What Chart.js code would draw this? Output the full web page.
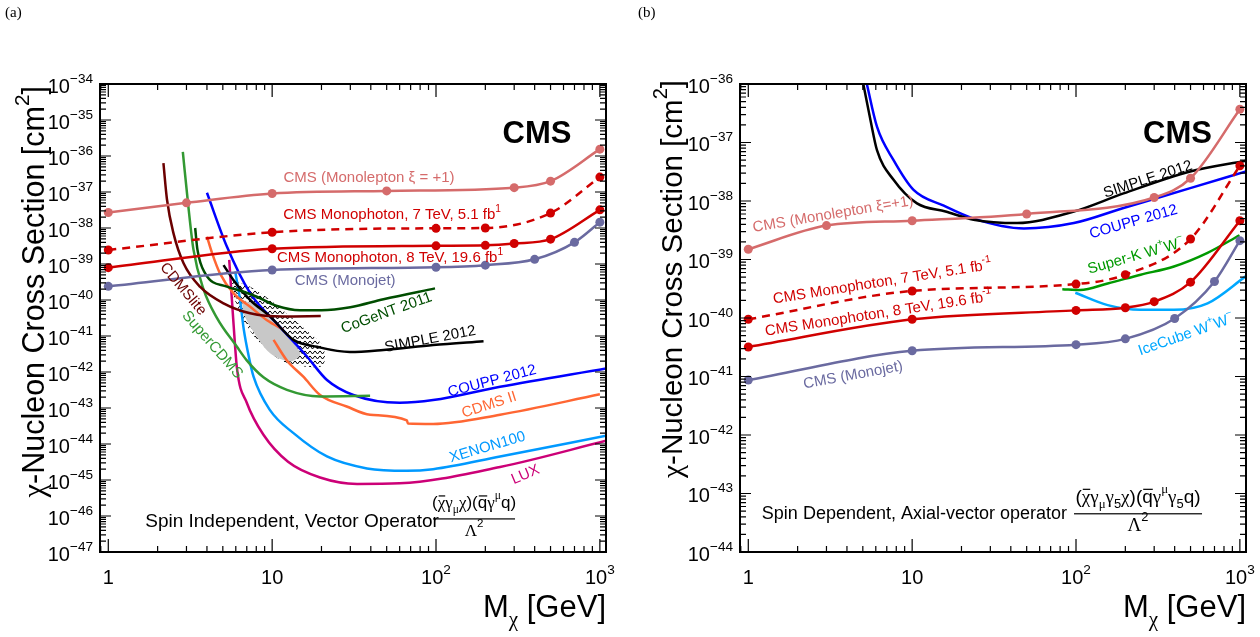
<!DOCTYPE html>
<html>
<head>
<meta charset="utf-8">
<script src="https://cdn.jsdelivr.net/npm/chart.js@4.4.1/dist/chart.umd.min.js"></script>
<style>
  body { margin: 0; background: #fff; }
  #wrap { position: relative; width: 1260px; height: 637px; }
  canvas { position: absolute; top: 0; }
</style>
</head>
<body>
<div id="wrap">
  <canvas id="siChart" width="630" height="637" style="left:0"></canvas>
  <canvas id="sdChart" width="630" height="637" style="left:630px"></canvas>
</div>
<script>
// mass axis range (GeV), shared by both panels
const massMin = 0.89, massMax = 1090;

// ---- (a) spin independent, vector operator ----
const siMonoleptonMass = [1, 3, 10, 50, 300, 500, 1000];
const siMonoleptonXsec = [2.7e-38, 5.0e-38, 9.1e-38, 1.07e-37, 1.32e-37, 2.0e-37, 1.55e-36];
const siPhoton7Mass = [1, 10, 100, 200, 500, 1000];
const siPhoton7Xsec = [2.45e-39, 7.6e-39, 9.8e-39, 1.0e-38, 2.6e-38, 2.6e-37];
const siPhoton8Mass = [1, 10, 100, 200, 300, 500, 1000];
const siPhoton8Xsec = [7.9e-40, 2.66e-39, 3.2e-39, 3.3e-39, 3.7e-39, 4.9e-39, 3.2e-38];
const siMonojetMass = [1, 10, 100, 200, 400, 700, 1000];
const siMonojetXsec = [2.4e-40, 6.8e-40, 8.1e-40, 9.3e-40, 1.35e-39, 4.0e-39, 1.45e-38];

// direct detection limits, [mass, cross section]
const siCDMSlite = [[2.17, 6.3e-37], [2.28, 6.3e-38], [2.5, 7.1e-39], [2.88, 1.05e-39], [3.64, 2.3e-40], [5.05, 8.1e-41], [7.34, 4.3e-41], [11.7, 3.5e-41], [19.8, 3.6e-41]];
const siSuperCDMS = [[2.85, 1.3e-36], [3.08, 4.0e-38], [3.31, 2.5e-39], [3.81, 2.0e-40], [4.6, 3.2e-41], [6.1, 5.0e-42], [7.0, 2.1e-42], [8.85, 7.1e-43], [12.3, 3.2e-43], [19.6, 2.1e-43], [39.6, 2.2e-43]];
const siCoGeNT = [[3.39, 1.0e-38], [3.5, 2.5e-39], [3.9, 5.5e-40], [5.3, 2.34e-40], [6.7, 1.7e-40], [8.06, 1.23e-40], [10.7, 6.8e-41], [14.8, 5.2e-41], [20, 5.2e-41], [30, 6.3e-41], [47.8, 1.05e-40], [98.6, 2.1e-40]];
const siSIMPLE = [[5.05, 9.3e-40], [5.8, 3.6e-40], [7.34, 1.0e-40], [9.7, 3.5e-41], [13.5, 7.8e-42], [18.8, 5.0e-42], [29.8, 3.6e-42], [47.8, 4.1e-42], [96, 5.6e-42], [195, 7.2e-42]];
const siCOUPP = [[4.0, 9.5e-38], [5.3, 3.0e-39], [7.34, 1.55e-40], [10.7, 2.2e-41], [16.3, 2.7e-42], [21.6, 6.0e-43], [31.3, 2.3e-43], [60, 1.4e-43], [96, 1.66e-43], [246, 3.9e-43], [1090, 1.26e-42]];
const siCDMSIIlow = [[4.0, 5.8e-39], [4.3, 2.0e-39], [4.8, 5.5e-40], [5.8, 1.55e-40], [7.34, 6.5e-41], [9.3, 2.75e-41], [11.7, 1.5e-41]];
const siCDMSII = [[10.2, 7.8e-42], [12.3, 2.1e-42], [15.5, 7.4e-43], [19.6, 2.3e-43], [28.5, 1.1e-43], [39.6, 6.5e-44], [66.4, 4.5e-44], [67.4, 3.7e-44], [96, 3.6e-44], [246, 6.5e-44], [1000, 2.4e-43]];
const siXENON100 = [[5.95, 6.2e-40], [6.37, 1.0e-40], [6.7, 1.6e-41], [7.2, 2.7e-42], [7.7, 7.4e-43], [9.7, 8.7e-44], [13.5, 2.0e-44], [21.6, 4.5e-45], [37.9, 2.1e-45], [66.4, 1.8e-45], [96, 2.0e-45], [246, 4.5e-45], [1090, 1.7e-44]];
const siLUX = [[5.47, 1.3e-39], [5.8, 2.5e-41], [6.1, 1.26e-42], [7.0, 1.4e-43], [8.85, 1.8e-44], [12.5, 3.2e-45], [19.6, 1.17e-45], [33, 7.8e-46], [60, 8.1e-46], [246, 2.3e-45], [1090, 1.23e-44]];
// allowed regions (closed contours)
const siHatchRegion = [[5.55, 3.6e-40], [7.34, 2.34e-40], [9.72, 1.0e-40], [12.9, 3.5e-41], [17.1, 1.17e-41], [20.5, 5.0e-42], [20.5, 1.55e-42], [16.3, 1.4e-42], [11.7, 1.95e-42], [8.45, 6.3e-42], [6.68, 2.75e-41], [5.81, 1.23e-40]];
const siGrayRegion = [[6.53, 1.0e-40], [8.45, 6.5e-41], [11.7, 1.5e-41], [14.1, 5.0e-42], [14.8, 2.95e-42], [12.9, 1.95e-42], [9.72, 3.3e-42], [7.34, 1.8e-41], [6.68, 4.3e-41]];

// ---- (b) spin dependent, axial-vector operator ----
const sdMonoleptonMass = [1, 3, 10, 50, 300, 500, 1000];
const sdMonoleptonXsec = [1.5e-39, 3.8e-39, 4.6e-39, 6.0e-39, 1.15e-38, 2.45e-38, 3.7e-37];
const sdPhoton7Mass = [1, 10, 100, 200, 500, 1000];
const sdPhoton7Xsec = [9.5e-41, 2.9e-40, 3.8e-40, 5.5e-40, 2.24e-39, 4.0e-38];
const sdPhoton8Mass = [1, 10, 100, 200, 300, 500, 1000];
const sdPhoton8Xsec = [3.2e-41, 9.5e-41, 1.35e-40, 1.5e-40, 1.9e-40, 4.1e-40, 4.6e-39];
const sdMonojetMass = [1, 10, 100, 200, 400, 700, 1000];
const sdMonojetXsec = [8.7e-42, 2.75e-41, 3.5e-41, 4.4e-41, 9.8e-41, 4.2e-40, 2.1e-39];

const sdSIMPLE = [[5.0, 1.1e-36], [5.57, 2.4e-37], [6.1, 7.4e-38], [7.7, 2.3e-38], [10.7, 9.1e-39], [16, 6.6e-39], [23.7, 4.8e-39], [43.7, 4.2e-39], [97, 6.6e-39], [195, 1.35e-38], [498, 3.2e-38], [1090, 4.9e-38]];
const sdCOUPP = [[5.25, 1.1e-36], [6.1, 1.86e-37], [7.7, 5.0e-38], [10.2, 1.55e-38], [15.6, 8.3e-39], [23.7, 5.0e-39], [48.1, 3.4e-39], [97, 4.2e-39], [195, 7.6e-39], [498, 1.66e-38], [1090, 3.2e-38]];
const sdSuperK = [[82.5, 3.1e-40], [106, 3.0e-40], [156, 3.9e-40], [248, 5.5e-40], [396, 7.6e-40], [635, 1.3e-39], [995, 2.6e-39]];
const sdIceCube = [[99, 2.7e-40], [156, 1.66e-40], [248, 1.38e-40], [396, 1.38e-40], [635, 1.78e-40], [1090, 5.2e-40]];

const C = {
  monolepton: '#d56b6b', monophoton: '#d00000', monojet: '#6a6aa0',
  cdmslite: '#6b0000', supercdms: '#339933', cogent: '#004d00', simple: '#000000',
  coupp: '#0000ff', cdms2: '#ff6633', xenon: '#0099ff', lux: '#cc0077',
  superk: '#009900', icecube: '#00a8ff'
};

const SANS = '"Liberation Sans", Arial, Helvetica, sans-serif';
const SERIF = '"Liberation Serif", "Times New Roman", serif';

function xy(xs, ys) { return xs.map((x, i) => ({ x: x, y: ys[i] })); }
function pairs(arr) { return arr.map(p => ({ x: p[0], y: p[1] })); }

function cmsSet(xs, ys, color, dashed) {
  return {
    data: xy(xs, ys), showLine: true, borderColor: color, backgroundColor: color,
    borderWidth: 2.5, borderDash: dashed ? [8, 6] : [],
    pointRadius: 4.5, pointHoverRadius: 4.5, pointBorderWidth: 0, pointBackgroundColor: color,
    cubicInterpolationMode: 'monotone', clip: 0, order: 1
  };
}
function limitSet(arr, color) {
  return {
    data: pairs(arr), showLine: true, borderColor: color, borderWidth: 2.5,
    pointRadius: 0, cubicInterpolationMode: 'monotone', clip: 0, order: 5
  };
}
function regionSet(arr, fill, order) {
  return {
    data: pairs(arr), showLine: true, borderWidth: 0, borderColor: 'rgba(0,0,0,0)',
    backgroundColor: fill, fill: 'shape', pointRadius: 0, tension: 0.3, clip: 0, order: order
  };
}

// zigzag hatching used for the outer allowed region
function zigzag() {
  const c = document.createElement('canvas');
  c.width = 5; c.height = 5;
  const g = c.getContext('2d');
  g.strokeStyle = '#000'; g.lineWidth = 1;
  g.beginPath(); g.moveTo(0, 0.8); g.lineTo(2.5, 4); g.lineTo(5, 0.8); g.stroke();
  return g.createPattern(c, 'repeat');
}

// text made of pieces: plain, superscript, subscript, overlined
function richFont(p, size) {
  const s = (p.sup || p.sub) ? size * 0.68 : size;
  return (p.bold ? 'bold ' : '') + s + 'px ' + (p.serif ? SERIF : SANS);
}
function richWidth(ctx, parts, size) {
  let w = 0;
  parts.forEach(p => { ctx.font = richFont(p, size); w += ctx.measureText(p.t).width; });
  return w;
}
function drawRich(ctx, parts, x, y, size, align) {
  const w = richWidth(ctx, parts, size);
  let cx = align === 'right' ? x - w : align === 'center' ? x - w / 2 : x;
  ctx.textAlign = 'left';
  ctx.textBaseline = 'alphabetic';
  parts.forEach(p => {
    ctx.font = richFont(p, size);
    const dy = p.sup ? -size * 0.5 : p.sub ? size * 0.28 : 0;
    ctx.fillText(p.t, cx, y + dy);
    const tw = ctx.measureText(p.t).width;
    if (p.bar) ctx.fillRect(cx + 1, y - size * 0.74, tw - 1, 1.2);
    cx += tw;
  });
}

function eachLogTick(scale, fn) {
  const lo = Math.floor(Math.log10(scale.min)), hi = Math.ceil(Math.log10(scale.max));
  for (let d = lo; d <= hi; d++) {
    for (let m = 1; m <= 9; m++) {
      const v = m * Math.pow(10, d);
      if (v < scale.min * (1 - 1e-9) || v > scale.max * (1 + 1e-9)) continue;
      fn(scale.getPixelForValue(v), m === 1, d);
    }
  }
}

// frame, ROOT style ticks, labels and annotations
function panelPlugin(panel) {
  return {
    id: 'panel',
    afterDraw(chart) {
      const ctx = chart.ctx, a = chart.chartArea, xs = chart.scales.x, ys = chart.scales.y;
      ctx.save();
      ctx.strokeStyle = '#000';
      ctx.lineWidth = 1.2;
      ctx.beginPath();
      eachLogTick(xs, (p, major) => {
        const L = major ? 13 : 6;
        ctx.moveTo(p, a.bottom); ctx.lineTo(p, a.bottom - L);
        ctx.moveTo(p, a.top); ctx.lineTo(p, a.top + L);
      });
      eachLogTick(ys, (p, major) => {
        const L = major ? 11 : 6;
        ctx.moveTo(a.left, p); ctx.lineTo(a.left + L, p);
        ctx.moveTo(a.right, p); ctx.lineTo(a.right - L, p);
      });
      ctx.stroke();
      ctx.lineWidth = 2;
      ctx.strokeRect(a.left, a.top, a.right - a.left, a.bottom - a.top);

      ctx.fillStyle = '#000';
      eachLogTick(ys, (p, major, d) => {
        if (!major) return;
        drawRich(ctx, [{ t: '10' }, { t: '\u2212' + Math.abs(d), sup: true }], a.left - 7, p + 8.5, 20, 'right');
      });
      eachLogTick(xs, (p, major, d) => {
        if (!major) return;
        const parts = d === 0 ? [{ t: '1' }] : d === 1 ? [{ t: '10' }] : [{ t: '10' }, { t: String(d), sup: true }];
        drawRich(ctx, parts, p, 584, 20, 'center');
      });

      // axis titles
      ctx.save();
      ctx.translate(panel.yTitleX, panel.yTitleTop);
      ctx.rotate(-Math.PI / 2);
      drawRich(ctx, [{ t: '\u03c7', serif: true }, { t: '-Nucleon Cross Section [cm' }, { t: '2', sup: true }, { t: ']' }],
        0, 0, panel.yTitleSize, 'right');
      ctx.restore();
      drawRich(ctx, [{ t: 'M' }, { t: '\u03c7', sub: true, serif: true }, { t: ' [GeV]' }], a.right, 617, 31, 'right');

      ctx.font = '15px ' + SERIF;
      ctx.textAlign = 'left';
      ctx.fillText(panel.tag, panel.tagX, 17);

      // curve labels
      panel.notes.forEach(n => {
        const size = n.size || 15;
        ctx.save();
        ctx.translate(xs.getPixelForValue(n.x), ys.getPixelForValue(n.y));
        ctx.rotate((n.angle || 0) * Math.PI / 180);
        ctx.fillStyle = n.color;
        drawRich(ctx, n.parts, 0, size * 0.36, size, n.align || 'center');
        ctx.restore();
      });

      // operator
      const f = panel.formula;
      const fx = xs.getPixelForValue(f.x), fy = ys.getPixelForValue(f.y);
      ctx.fillStyle = '#000';
      ctx.fillRect(fx - f.half, fy - 0.6, f.half * 2, 1.2);
      drawRich(ctx, f.num, fx, fy - 11, f.size, 'center');
      drawRich(ctx, [{ t: '\u039b', serif: true }, { t: '2', sup: true }], fx, fy + 17, f.size, 'center');
      ctx.restore();
    }
  };
}

function makeChart(id, datasets, yMin, yMax, yWidth, padRight, panel) {
  return new Chart(document.getElementById(id), {
    type: 'scatter',
    data: { datasets: datasets },
    options: {
      responsive: false, animation: false, devicePixelRatio: 1, events: [],
      layout: { padding: { top: 84, right: padRight, bottom: 0, left: 0 } },
      plugins: { legend: { display: false }, tooltip: { enabled: false } },
      scales: {
        x: {
          type: 'logarithmic', bounds: 'data', min: massMin, max: massMax,
          ticks: { display: false }, grid: { display: false }, border: { display: false },
          afterFit: s => { s.height = 85; }
        },
        y: {
          type: 'logarithmic', bounds: 'data', min: yMin, max: yMax,
          ticks: { display: false }, grid: { display: false }, border: { display: false },
          afterFit: s => { s.width = yWidth; }
        }
      }
    },
    plugins: [panelPlugin(panel)]
  });
}

const siDatasets = [
  regionSet(siHatchRegion, zigzag(), 20),
  regionSet(siGrayRegion, '#c8c8c8', 19),
  limitSet(siCDMSlite, C.cdmslite),
  limitSet(siSuperCDMS, C.supercdms),
  limitSet(siCoGeNT, C.cogent),
  limitSet(siSIMPLE, C.simple),
  limitSet(siCOUPP, C.coupp),
  limitSet(siCDMSIIlow, C.cdms2),
  limitSet(siCDMSII, C.cdms2),
  limitSet(siXENON100, C.xenon),
  limitSet(siLUX, C.lux),
  cmsSet(siMonoleptonMass, siMonoleptonXsec, C.monolepton, false),
  cmsSet(siPhoton7Mass, siPhoton7Xsec, C.monophoton, true),
  cmsSet(siPhoton8Mass, siPhoton8Xsec, C.monophoton, false),
  cmsSet(siMonojetMass, siMonojetXsec, C.monojet, false)
];

const sdDatasets = [
  limitSet(sdSIMPLE, C.simple),
  limitSet(sdCOUPP, C.coupp),
  limitSet(sdSuperK, C.superk),
  limitSet(sdIceCube, C.icecube),
  cmsSet(sdMonoleptonMass, sdMonoleptonXsec, C.monolepton, false),
  cmsSet(sdPhoton7Mass, sdPhoton7Xsec, C.monophoton, true),
  cmsSet(sdPhoton8Mass, sdPhoton8Xsec, C.monophoton, false),
  cmsSet(sdMonojetMass, sdMonojetXsec, C.monojet, false)
];

makeChart('siChart', siDatasets, 1e-47, 1e-34, 100, 24, {
  tag: '(a)', tagX: 5, yTitleX: 44, yTitleTop: 86, yTitleSize: 30.5,
  notes: [
    { parts: [{ t: 'CMS', bold: true }], x: 413, y: 4.7e-36, size: 31, color: '#000' },
    { parts: [{ t: 'CMS (Monolepton \u03be = +1)' }], x: 39, y: 2.6e-37, color: C.monolepton },
    { parts: [{ t: 'CMS Monophoton, 7 TeV, 5.1 fb' }, { t: '1', sup: true }], x: 54, y: 2.45e-38, color: C.monophoton },
    { parts: [{ t: 'CMS Monophoton, 8 TeV, 19.6 fb' }, { t: '1', sup: true }], x: 52.4, y: 1.6e-39, color: C.monophoton },
    { parts: [{ t: 'CMS (Monojet)' }], x: 27.9, y: 3.8e-40, color: C.monojet },
    { parts: [{ t: 'CDMSlite' }], x: 2.9, y: 2.1e-40, angle: 50, color: C.cdmslite },
    { parts: [{ t: 'SuperCDMS' }], x: 4.37, y: 6e-42, angle: 49, color: C.supercdms },
    { parts: [{ t: 'CoGeNT 2011' }], x: 49.6, y: 4.7e-41, angle: -20, color: C.cogent },
    { parts: [{ t: 'SIMPLE 2012' }], x: 91.8, y: 8.8e-42, angle: -10.7, color: C.simple },
    { parts: [{ t: 'COUPP 2012' }], x: 219, y: 6.0e-43, angle: -14.8, color: C.coupp },
    { parts: [{ t: 'CDMS II' }], x: 210, y: 1.3e-43, angle: -18, color: C.cdms2 },
    { parts: [{ t: 'XENON100' }], x: 205, y: 8.8e-45, angle: -16.5, color: C.xenon },
    { parts: [{ t: 'LUX' }], x: 349, y: 1.5e-45, angle: -23, color: C.lux },
    { parts: [{ t: 'Spin Independent, Vector Operator' }], x: 1.68, y: 7.8e-47, size: 19, align: 'left', color: '#000' }
  ],
  formula: {
    x: 170.6, y: 8.3e-47, half: 41, size: 17,
    num: [{ t: '(' }, { t: '\u03c7', serif: true, bar: true }, { t: '\u03b3', serif: true }, { t: '\u03bc', serif: true, sub: true },
          { t: '\u03c7', serif: true }, { t: ')(' }, { t: 'q', bar: true }, { t: '\u03b3', serif: true },
          { t: '\u03bc', serif: true, sup: true }, { t: 'q)' }]
  }
});

makeChart('sdChart', sdDatasets, 1e-44, 1e-36, 110, 14, {
  tag: '(b)', tagX: 8, yTitleX: 52, yTitleTop: 80, yTitleSize: 29.5,
  notes: [
    { parts: [{ t: 'CMS', bold: true }], x: 416, y: 1.5e-37, size: 31, color: '#000' },
    { parts: [{ t: 'CMS (Monolepton \u03be=+1)' }], x: 3.28, y: 6.2e-39, angle: -9.6, color: C.monolepton },
    { parts: [{ t: 'SIMPLE 2012' }], x: 273, y: 2.45e-38, angle: -18, color: C.simple },
    { parts: [{ t: 'COUPP 2012' }], x: 223, y: 4.6e-39, angle: -16, color: C.coupp },
    { parts: [{ t: 'Super-K W' }, { t: '+', sup: true }, { t: 'W' }, { t: '\u2212', sup: true }], x: 231, y: 1.2e-39, angle: -16, color: C.superk },
    { parts: [{ t: 'IceCube W' }, { t: '+', sup: true }, { t: 'W' }, { t: '\u2212', sup: true }], x: 467, y: 5.4e-41, angle: -19.4, color: C.icecube },
    { parts: [{ t: 'CMS Monophoton, 7 TeV, 5.1 fb' }, { t: '-1', sup: true }], x: 6.56, y: 4.3e-40, angle: -9, color: C.monophoton },
    { parts: [{ t: 'CMS Monophoton, 8 TeV, 19.6 fb' }, { t: '-1', sup: true }], x: 6.22, y: 1.23e-40, angle: -8.8, color: C.monophoton },
    { parts: [{ t: 'CMS (Monojet)' }], x: 4.35, y: 1.1e-41, angle: -10.5, color: C.monojet },
    { parts: [{ t: 'Spin Dependent, Axial-vector operator' }], x: 1.21, y: 4.7e-44, size: 18, align: 'left', color: '#000' }
  ],
  formula: {
    x: 239, y: 4.5e-44, half: 64, size: 19,
    num: [{ t: '(' }, { t: '\u03c7', serif: true, bar: true }, { t: '\u03b3', serif: true }, { t: '\u03bc', serif: true, sub: true },
          { t: '\u03b3', serif: true }, { t: '5', sub: true }, { t: '\u03c7', serif: true }, { t: ')(' }, { t: 'q', bar: true },
          { t: '\u03b3', serif: true }, { t: '\u03bc', serif: true, sup: true }, { t: '\u03b3', serif: true }, { t: '5', sub: true }, { t: 'q)' }]
  }
});
</script>
</body>
</html>
